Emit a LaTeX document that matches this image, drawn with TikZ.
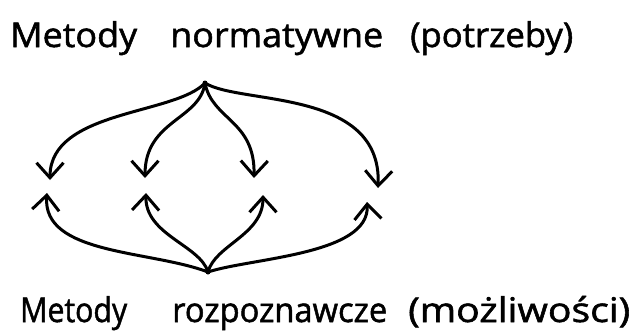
\documentclass[tikz,border=0pt]{standalone}
\usepackage{fontspec}
\newfontfamily\hand{Open Sans}[FakeBold=1.5]
\usetikzlibrary{arrows.meta}
% stretch a word horizontally to a given width, keeping its height
\newcommand{\wordw}[2]{\resizebox{#1}{\height}{#2}}
\begin{document}
\begin{tikzpicture}[x=1pt,y=-1pt,
  word/.style={anchor=base west, inner sep=0pt, font=\hand\fontsize{34}{40}\selectfont},
  link/.style={line width=3pt, line cap=round, line join=round,
    -{Straight Barb[length=15pt,width=27pt]}}]
\useasboundingbox (0,0) rectangle (636,335);

% headings
\node[word] (top1) at (10,47)  {\wordw{127pt}{Metody}};
\node[word] (top2) at (170,47) {\wordw{213pt}{normatywne}};
\node[word] (top3) at (410,47) {\wordw{163pt}{(potrzeby)}};
\node[word] (bot1) at (20,322)  {\wordw{107pt}{Metody}};
\node[word] (bot2) at (172,322) {\wordw{215pt}{rozpoznawcze}};
\node[word] (bot3) at (408,322) {\wordw{222pt}{(możliwości)}};

% hubs
\coordinate (src) at (205,83);
\coordinate (snk) at (208,272);

% arrow ends from the upper hub
\coordinate (t1) at (50,180);
\coordinate (t2) at (145,178);
\coordinate (t3) at (254,178);
\coordinate (t4) at (378,188);

% arrow ends from the lower hub
\coordinate (b1) at (47,193);
\coordinate (b2) at (146,193);
\coordinate (b3) at (263,195);
\coordinate (b4) at (367,202);

\draw[link] (src) .. controls (175,115) and (50,110) .. (t1);
\draw[link] (src) .. controls (200,120) and (145,120) .. (t2);
\draw[link] (src) .. controls (212,120) and (255,120) .. (t3);
\draw[link] (src) .. controls (240,105) and (382,88) .. (t4);

\draw[link] (snk) .. controls (150,250) and (42,255) .. (b1);
\draw[link] (snk) .. controls (200,245) and (145,235) .. (b2);
\draw[link] (snk) .. controls (215,245) and (263,235) .. (b3);
\draw[link] (snk) .. controls (250,258) and (370,255) .. (b4);

\fill (src) circle (2.5pt);
\fill (snk) circle (2.5pt);
\end{tikzpicture}
\end{document}
